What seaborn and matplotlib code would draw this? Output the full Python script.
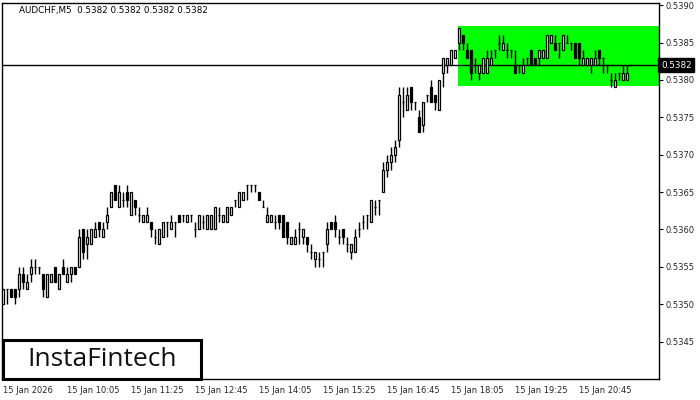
import matplotlib
matplotlib.use("Agg")
import matplotlib.pyplot as plt
import matplotlib.patches as mpatches
import matplotlib.transforms as mtransforms
import numpy as np
import pandas as pd
import seaborn as sns

# AUDCHF M5 candles (prices)
opens = [0.5350, 0.5352, 0.5352, 0.5352, 0.5352, 0.5354, 0.5352, 0.5354, 0.5355, 0.5355,
         0.5354, 0.5351, 0.5353, 0.5355, 0.5352, 0.5355, 0.5353, 0.5354, 0.5355, 0.5355,
         0.5360, 0.5358, 0.5358, 0.5359, 0.5361, 0.5359, 0.5361, 0.5363, 0.5366, 0.5363,
         0.5364, 0.5365, 0.5362, 0.5364, 0.5362, 0.5361, 0.5361, 0.5361, 0.5359, 0.5358,
         0.5359, 0.5361, 0.5360, 0.5361, 0.5362, 0.5362, 0.5361, 0.5362, 0.5360, 0.5360,
         0.5361, 0.5360, 0.5360, 0.5360, 0.5362, 0.5361, 0.5361, 0.5362, 0.5364, 0.5363,
         0.5364, 0.5366, 0.5366, 0.5366, 0.5365, 0.5363, 0.5361, 0.5361, 0.5361, 0.5362,
         0.5362, 0.5361, 0.5358, 0.5358, 0.5360, 0.5359, 0.5359, 0.5357, 0.5356, 0.5356,
         0.5357, 0.5358, 0.5361, 0.5361, 0.5359, 0.5360, 0.5358, 0.5357, 0.5357, 0.5360,
         0.5361, 0.5362, 0.5361, 0.5363, 0.5364, 0.5365, 0.5368, 0.5369, 0.5370, 0.5372,
         0.5377, 0.5376, 0.5379, 0.5377, 0.5375, 0.5374, 0.5378, 0.5379, 0.5378, 0.5376,
         0.5381, 0.5382, 0.5382, 0.5383, 0.5385, 0.5386, 0.5384, 0.5384, 0.5382, 0.5381,
         0.5381, 0.5381, 0.5382, 0.5384, 0.5385, 0.5384, 0.5384, 0.5384, 0.5382, 0.5382,
         0.5381, 0.5383, 0.5384, 0.5383, 0.5383, 0.5383, 0.5383, 0.5385, 0.5385, 0.5385,
         0.5384, 0.5385, 0.5385, 0.5385, 0.5385, 0.5382, 0.5382, 0.5382, 0.5382, 0.5384,
         0.5383, 0.5382, 0.5380, 0.5379, 0.5381, 0.5380, 0.5380, 0.5382]
highs = [0.5352, 0.5352, 0.5352, 0.5352, 0.5355, 0.5355, 0.5354, 0.5356, 0.5356, 0.5355,
         0.5354, 0.5354, 0.5354, 0.5355, 0.5354, 0.5356, 0.5355, 0.5355, 0.5355, 0.5360,
         0.5360, 0.5360, 0.5360, 0.5361, 0.5361, 0.5361, 0.5363, 0.5365, 0.5366, 0.5366,
         0.5365, 0.5366, 0.5365, 0.5364, 0.5363, 0.5362, 0.5363, 0.5361, 0.5360, 0.5360,
         0.5361, 0.5361, 0.5362, 0.5361, 0.5362, 0.5362, 0.5362, 0.5362, 0.5361, 0.5362,
         0.5362, 0.5362, 0.5362, 0.5363, 0.5363, 0.5362, 0.5363, 0.5363, 0.5364, 0.5365,
         0.5365, 0.5366, 0.5366, 0.5366, 0.5365, 0.5364, 0.5363, 0.5362, 0.5362, 0.5362,
         0.5362, 0.5361, 0.5359, 0.5360, 0.5361, 0.5360, 0.5359, 0.5358, 0.5357, 0.5357,
         0.5357, 0.5361, 0.5361, 0.5362, 0.5360, 0.5360, 0.5359, 0.5358, 0.5360, 0.5361,
         0.5362, 0.5362, 0.5364, 0.5364, 0.5364, 0.5369, 0.5370, 0.5371, 0.5372, 0.5379,
         0.5379, 0.5379, 0.5379, 0.5377, 0.5376, 0.5377, 0.5378, 0.5380, 0.5378, 0.5380,
         0.5383, 0.5383, 0.5384, 0.5384, 0.5387, 0.5386, 0.5385, 0.5384, 0.5383, 0.5382,
         0.5383, 0.5384, 0.5384, 0.5384, 0.5386, 0.5386, 0.5385, 0.5384, 0.5384, 0.5382,
         0.5383, 0.5383, 0.5384, 0.5383, 0.5384, 0.5384, 0.5386, 0.5386, 0.5386, 0.5385,
         0.5386, 0.5386, 0.5385, 0.5385, 0.5385, 0.5384, 0.5383, 0.5383, 0.5384, 0.5384,
         0.5383, 0.5382, 0.5381, 0.5381, 0.5381, 0.5382, 0.5382, 0.5382]
lows = [0.5350, 0.5350, 0.5351, 0.5350, 0.5351, 0.5352, 0.5352, 0.5353, 0.5354, 0.5354,
        0.5351, 0.5351, 0.5353, 0.5353, 0.5352, 0.5354, 0.5353, 0.5353, 0.5354, 0.5355,
        0.5356, 0.5356, 0.5358, 0.5359, 0.5359, 0.5359, 0.5360, 0.5363, 0.5364, 0.5363,
        0.5363, 0.5363, 0.5362, 0.5362, 0.5361, 0.5361, 0.5361, 0.5359, 0.5358, 0.5358,
        0.5359, 0.5359, 0.5360, 0.5359, 0.5361, 0.5361, 0.5361, 0.5361, 0.5359, 0.5360,
        0.5360, 0.5360, 0.5360, 0.5360, 0.5361, 0.5361, 0.5361, 0.5362, 0.5363, 0.5363,
        0.5364, 0.5364, 0.5365, 0.5365, 0.5364, 0.5363, 0.5361, 0.5361, 0.5360, 0.5360,
        0.5359, 0.5358, 0.5358, 0.5358, 0.5358, 0.5358, 0.5357, 0.5356, 0.5355, 0.5355,
        0.5355, 0.5357, 0.5360, 0.5359, 0.5358, 0.5358, 0.5357, 0.5356, 0.5357, 0.5359,
        0.5360, 0.5360, 0.5361, 0.5362, 0.5362, 0.5365, 0.5367, 0.5368, 0.5369, 0.5371,
        0.5375, 0.5376, 0.5376, 0.5376, 0.5373, 0.5373, 0.5377, 0.5377, 0.5376, 0.5376,
        0.5379, 0.5381, 0.5382, 0.5383, 0.5384, 0.5384, 0.5383, 0.5380, 0.5381, 0.5380,
        0.5381, 0.5381, 0.5382, 0.5383, 0.5384, 0.5384, 0.5383, 0.5383, 0.5381, 0.5381,
        0.5381, 0.5382, 0.5382, 0.5382, 0.5382, 0.5383, 0.5383, 0.5385, 0.5384, 0.5383,
        0.5384, 0.5385, 0.5384, 0.5383, 0.5382, 0.5382, 0.5382, 0.5381, 0.5382, 0.5382,
        0.5381, 0.5381, 0.5379, 0.5379, 0.5380, 0.5380, 0.5380, 0.5382]
closes = [0.5352, 0.5352, 0.5351, 0.5351, 0.5354, 0.5353, 0.5353, 0.5355, 0.5355, 0.5355,
          0.5352, 0.5354, 0.5354, 0.5353, 0.5354, 0.5354, 0.5354, 0.5355, 0.5354, 0.5359,
          0.5357, 0.5359, 0.5360, 0.5360, 0.5360, 0.5360, 0.5362, 0.5365, 0.5364, 0.5365,
          0.5364, 0.5364, 0.5365, 0.5363, 0.5362, 0.5362, 0.5362, 0.5360, 0.5359, 0.5360,
          0.5361, 0.5361, 0.5361, 0.5361, 0.5361, 0.5362, 0.5362, 0.5362, 0.5360, 0.5362,
          0.5361, 0.5362, 0.5362, 0.5363, 0.5362, 0.5362, 0.5363, 0.5363, 0.5364, 0.5365,
          0.5365, 0.5366, 0.5366, 0.5366, 0.5364, 0.5363, 0.5362, 0.5362, 0.5361, 0.5361,
          0.5359, 0.5359, 0.5359, 0.5359, 0.5360, 0.5360, 0.5358, 0.5357, 0.5357, 0.5356,
          0.5357, 0.5360, 0.5360, 0.5360, 0.5359, 0.5359, 0.5358, 0.5358, 0.5359, 0.5360,
          0.5361, 0.5362, 0.5364, 0.5363, 0.5364, 0.5368, 0.5369, 0.5370, 0.5371, 0.5378,
          0.5377, 0.5378, 0.5377, 0.5377, 0.5373, 0.5377, 0.5378, 0.5377, 0.5377, 0.5380,
          0.5383, 0.5383, 0.5384, 0.5384, 0.5387, 0.5385, 0.5383, 0.5381, 0.5382, 0.5382,
          0.5383, 0.5383, 0.5383, 0.5384, 0.5385, 0.5385, 0.5384, 0.5384, 0.5381, 0.5382,
          0.5382, 0.5383, 0.5382, 0.5382, 0.5384, 0.5384, 0.5386, 0.5386, 0.5384, 0.5385,
          0.5386, 0.5385, 0.5385, 0.5383, 0.5383, 0.5383, 0.5383, 0.5383, 0.5383, 0.5383,
          0.5383, 0.5382, 0.5380, 0.5380, 0.5381, 0.5381, 0.5381, 0.5382]

tick_bars = [0, 16, 32, 48, 64, 80, 96, 112, 128, 144]
tick_labels = ["15 Jan 2026", "15 Jan 10:05", "15 Jan 11:25", "15 Jan 12:45", "15 Jan 14:05",
               "15 Jan 15:25", "15 Jan 16:45", "15 Jan 18:05", "15 Jan 19:25", "15 Jan 20:45"]
price_ticks = [0.5345, 0.5350, 0.5355, 0.5360, 0.5365, 0.5370, 0.5375, 0.5380, 0.5385, 0.5390]
last_price = 0.5382
zone_start = 114
zone_low, zone_high = 0.53792, 0.53872

df = pd.DataFrame({"open": opens, "high": highs, "low": lows, "close": closes})
df["bar"] = np.arange(len(df))
df["bottom"] = df[["open", "close"]].min(axis=1)
df["height"] = (df["close"] - df["open"]).abs()
df["bull"] = df["close"] >= df["open"]

sns.set_style("white")
plt.rcParams["font.family"] = ["DejaVu Sans"]

fig = plt.figure(figsize=(7, 4), dpi=100)
ax = fig.add_axes([2 / 700, 21 / 400, 657 / 700, 376 / 400])

# green rectangle zone
ax.add_patch(mpatches.Rectangle((zone_start - 0.25, zone_low), 200, zone_high - zone_low,
                                facecolor="#00ff00", edgecolor="none", zorder=1))
ax.axhline(last_price, color="black", lw=1, zorder=1.5)

ax.vlines(df["bar"], df["low"], df["high"], color="black", lw=1, zorder=2)
colors = np.where(df["bull"], "white", "black")
ax.bar(df["bar"], df["height"], bottom=df["bottom"], width=0.5, color=colors,
       edgecolor="black", linewidth=0.9, zorder=3)

ax.set_xlim(-0.25, 164)
ax.set_ylim(0.53400, 0.53903)

ax.set_xticks(tick_bars)
ax.set_xticklabels(tick_labels, ha="left", fontsize=6)
ax.yaxis.tick_right()
ax.set_yticks(price_ticks)
ax.set_yticklabels([f"{p:.4f}" for p in price_ticks], fontsize=6)
ax.tick_params(axis="both", direction="out", length=3, width=0.8, color="black", pad=2)
for s in ax.spines.values():
    s.set_visible(True)
    s.set_color("black")
    s.set_linewidth(1)

# title text
ax.text(0.026, 0.979, "AUDCHF,M5  0.5382 0.5382 0.5382 0.5382", transform=ax.transAxes,
        fontsize=6.3, va="center", ha="left", color="black")

# current price label
trans = mtransforms.blended_transform_factory(ax.transAxes, ax.transData)
ax.text(1.003, last_price, f"{last_price:.4f}", transform=trans, fontsize=6.3, color="white",
        va="center", ha="left", clip_on=False,
        bbox=dict(boxstyle="square,pad=0.3", facecolor="black", edgecolor="black"))

# logo box
ax.add_patch(mpatches.Rectangle((0.0015, 0.0), 0.301, 0.104, transform=ax.transAxes,
                                facecolor="white", edgecolor="black", lw=2.2, zorder=5,
                                clip_on=False))
ax.text(0.152, 0.052, "InstaFintech", transform=ax.transAxes, fontsize=19,
        family=["Open Sans", "DejaVu Sans"], fontweight="medium", va="center", ha="center",
        color="#111111", zorder=6)

fig.savefig("out.png", dpi=100)
